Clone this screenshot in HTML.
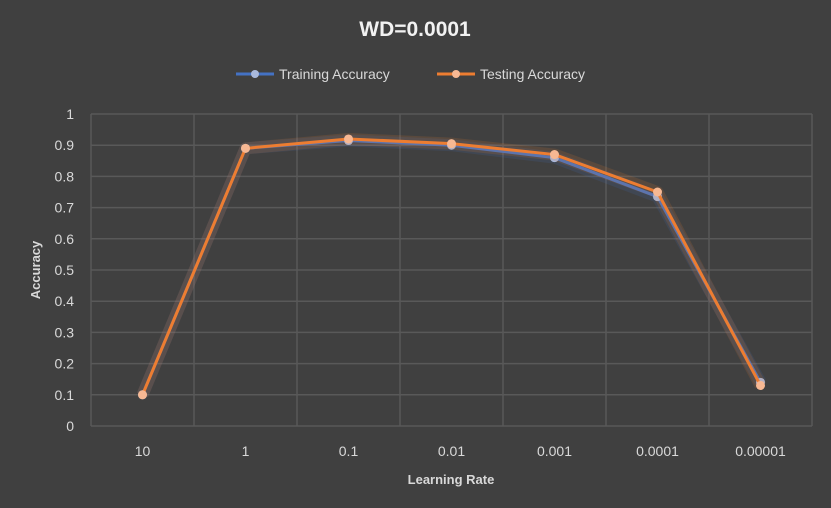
<!DOCTYPE html>
<html><head><meta charset="utf-8"><style>
body{margin:0;background:#404040;}
svg{display:block;font-family:"Liberation Sans",sans-serif;}
</style></head><body>
<svg id="c" width="831" height="508">
<rect width="831" height="508" fill="#404040"/>
<text x="415" y="36" text-anchor="middle" font-size="21" font-weight="bold" fill="#f2f2f2">WD=0.0001</text>
<g>
<g><line x1="236" y1="74" x2="274" y2="74" stroke="#4472c4" stroke-width="3"/><circle cx="255" cy="74" r="4" fill="#a9b9dd"/><text x="279" y="79" font-size="14" fill="#d9d9d9">Training Accuracy</text></g>
<g><line x1="437" y1="74" x2="475" y2="74" stroke="#ed7d31" stroke-width="3"/><circle cx="456" cy="74" r="4" fill="#f7b893"/><text x="480" y="79" font-size="14" fill="#d9d9d9">Testing Accuracy</text></g>
</g>
<g id="grid"></g>
<g id="axes"></g>
<g id="series"></g>
<text transform="translate(40,270) rotate(-90)" text-anchor="middle" font-size="13" font-weight="bold" fill="#d9d9d9">Accuracy</text>
<text x="451" y="484" text-anchor="middle" font-size="13" font-weight="bold" fill="#d9d9d9">Learning Rate</text>
</svg>
<script>
const categories=["10","1","0.1","0.01","0.001","0.0001","0.00001"];
const trainingValues=[0.1,0.89,0.915,0.90,0.86,0.735,0.14];
const testingValues=[0.1,0.89,0.92,0.905,0.87,0.75,0.13];
const yTicks=[0,0.1,0.2,0.3,0.4,0.5,0.6,0.7,0.8,0.9,1];
const L=91,R=812,T=114,B=426,NS="http://www.w3.org/2000/svg";
const bw=(R-L)/categories.length;
const x=i=>L+bw*(i+0.5);
const y=v=>B-(B-T)*v;
function mk(tag,attrs,parent){const e=document.createElementNS(NS,tag);for(const k in attrs)e.setAttribute(k,attrs[k]);parent.appendChild(e);return e;}
const grid=document.getElementById('grid'),axes=document.getElementById('axes'),series=document.getElementById('series');
yTicks.forEach(t=>{
 const l=mk('line',{x1:L,x2:R,y1:y(t),y2:y(t),stroke:'#595959','stroke-width':1.5},grid);
 
 
 const tx=mk('text',{x:74,y:y(t)+5,'text-anchor':'end','font-size':14,fill:'#d9d9d9'},axes);
 tx.textContent=String(t);
 
 
});
for(let i=0;i<=categories.length;i++){
 const l=mk('line',{x1:L+bw*i,x2:L+bw*i,y1:T,y2:B,stroke:'#595959','stroke-width':1.5},grid);
 
 
}
categories.forEach((c,i)=>{
 const tx=mk('text',{x:x(i),y:456,'text-anchor':'middle','font-size':14,fill:'#d9d9d9'},axes);
 tx.textContent=c;
 
 
});
function draw(vals,col,mcol,name){
 const g=mk('g',{},series);
 
 
 const pts=vals.map((v,i)=>x(i)+','+y(v)).join(' ');
 mk('polyline',{points:pts,fill:'none',stroke:col,'stroke-opacity':0.15,'stroke-width':12,'stroke-linejoin':'round'},g);
 const pl=mk('polyline',{points:pts,fill:'none',stroke:col,'stroke-width':3,'stroke-linejoin':'round'},g);
 
 
 vals.forEach((v,i)=>{
  const c=mk('circle',{cx:x(i),cy:y(v),r:4.5,fill:mcol},g);
  
  
 });
}
draw(trainingValues,'#4472c4','#a9b9dd','training-series');
draw(testingValues,'#ed7d31','#f7b893','testing-series');
</script>
</body></html>
